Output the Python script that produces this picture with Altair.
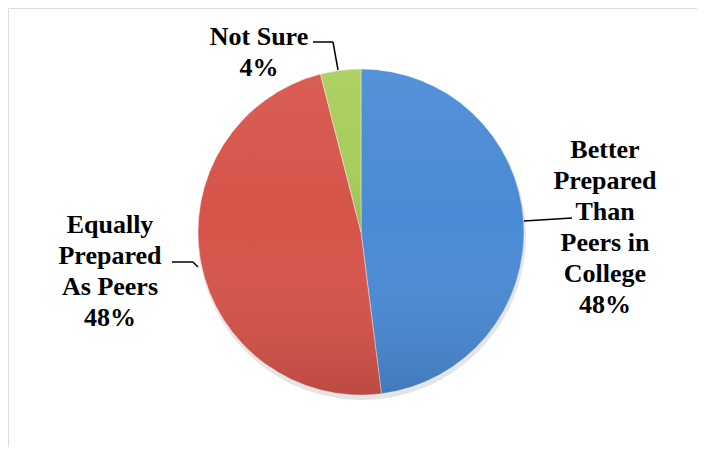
import altair as alt
import pandas as pd

categories = ["Better Prepared Than Peers in College", "Equally Prepared As Peers", "Not Sure"]
values = [48, 48, 4]
label_lines = ["Better\nPrepared\nThan\nPeers in\nCollege\n48%", "Equally\nPrepared\nAs Peers\n48%", "Not Sure\n4%"]
colors = ["#4A8BD5", "#D6544A", "#A8CE5C"]

df = pd.DataFrame({"category": categories, "value": values, "order": list(range(len(categories))), "label": label_lines})

W, H = 689, 439
CX, CY, R = 353, 224, 163

base = alt.Chart(df).encode(
    theta=alt.Theta("value:Q", stack=True),
    order=alt.Order("order:Q"),
)

shadow = base.mark_arc(radius=R + 1, fill="#000000", opacity=0.10).encode(
    x=alt.value(CX + 1), y=alt.value(CY + 4)
)

pie = base.mark_arc(radius=R, stroke="#FFFFFF", strokeOpacity=0.4, strokeWidth=1).encode(
    x=alt.value(CX), y=alt.value(CY),
    color=alt.Color("category:N", scale=alt.Scale(domain=categories, range=colors), legend=None),
)

shade = base.mark_arc(
    radius=R,
    fill=alt.Gradient(
        gradient="linear", x1=0, y1=0, x2=0, y2=1,
        stops=[
            alt.GradientStop(offset=0, color="rgba(255,255,255,0.06)"),
            alt.GradientStop(offset=0.45, color="rgba(255,255,255,0)"),
            alt.GradientStop(offset=1, color="rgba(0,0,0,0.12)"),
        ],
    ),
).encode(x=alt.value(CX), y=alt.value(CY))

label_pos = [(597, 142), (102, 217), (251, 29)]
texts = []
for i, (lx, ly) in enumerate(label_pos):
    t = alt.Chart(df).transform_filter(alt.datum.order == i).mark_text(
        font="'Liberation Serif', 'Times New Roman', serif", fontWeight="bold", fontSize=26, lineHeight=31,
        lineBreak="\n", align="center", baseline="middle", color="#000000",
    ).encode(x=alt.value(lx), y=alt.value(ly), text="label:N")
    texts.append(t)

segments = [
    (516, 213, 564, 210),
    (164, 254, 185, 254),
    (185, 254, 190, 259),
    (305, 34, 325, 34),
    (325, 34, 330, 62),
]
one = pd.DataFrame({"k": [0]})
leaders = []
for (x1, y1, x2, y2) in segments:
    leaders.append(
        alt.Chart(one).mark_rule(color="#000000", strokeWidth=1.5).encode(
            x=alt.value(x1), y=alt.value(y1), x2=alt.value(x2), y2=alt.value(y2)
        )
    )

border = [
    alt.Chart(one).mark_rule(color="#9E9E9E", strokeWidth=2).encode(
        x=alt.value(-1), y=alt.value(-1), x2=alt.value(W + 20), y2=alt.value(-1)
    ),
    alt.Chart(one).mark_rule(color="#9E9E9E", strokeWidth=2).encode(
        x=alt.value(-1), y=alt.value(-1), x2=alt.value(-1), y2=alt.value(H + 20)
    ),
]

chart = alt.layer(shadow, pie, shade, *leaders, *texts, *border).properties(
    width=W, height=H, padding=0,
    autosize=alt.AutoSizeParams(type="none"),
).configure_view(stroke=None).configure(background="#FFFFFF")

chart.save("out.html", embed_options={"renderer": "svg", "actions": False})
